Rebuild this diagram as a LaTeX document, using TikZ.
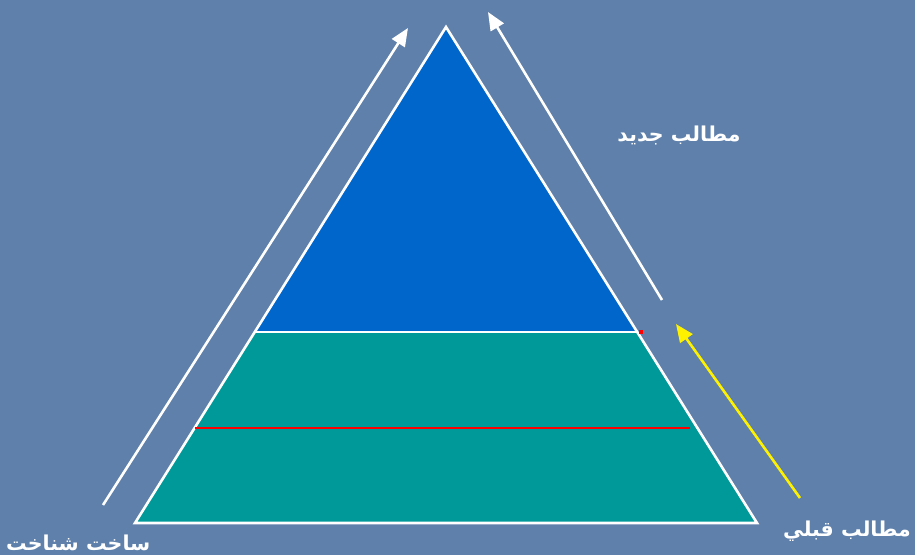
\documentclass[tikz,border=0pt]{standalone}
\usepackage{fontspec}
\TeXXeTstate=1
\newfontfamily\arabicfont[Script=Arabic]{DejaVu Sans}
\usetikzlibrary{arrows.meta}
\definecolor{bgblue}{HTML}{5E80AA}
\definecolor{topblue}{HTML}{0066CC}
\definecolor{teal}{HTML}{009999}
\tikzset{
  px/.style={x=1pt,y=-1pt},
  lbl/.style={text=white,font=\arabicfont\bfseries\fontsize{20.5}{24}\selectfont,inner sep=0pt},
  warrow/.style={draw=white,line width=2.6pt,-{Triangle[length=18pt,width=15pt]}},
  yarrow/.style={draw=yellow,line width=2.6pt,-{Triangle[length=18pt,width=15pt]}},
  edge/.style={draw=white,line width=2.6pt,line join=miter}
}
\begin{document}
\begin{tikzpicture}[px]
\fill[bgblue] (0,0) rectangle (915,555);
\useasboundingbox (0,0) rectangle (915,555);
\coordinate (apex) at (446,27);
\coordinate (bl) at (135,523);
\coordinate (br) at (757,523);
\coordinate (ml) at (256,332);
\coordinate (mr) at (637,332);
\coordinate (rl) at (195,428);
\coordinate (rr) at (690,428);
\fill[teal] (ml) -- (mr) -- (br) -- (bl) -- cycle;
\fill[topblue] (apex) -- (mr) -- (ml) -- cycle;
\draw[edge] (apex) -- (br) -- (bl) -- cycle;
\draw[edge] (ml) -- (mr);
\draw[red,line width=2.6pt] (rl) -- (rr);
\fill[red] (639,330) rectangle (643,334);
\coordinate (a1s) at (103,505);
\coordinate (a1e) at (408,28);
\coordinate (a2s) at (662,300);
\coordinate (a2e) at (488,12);
\coordinate (a3s) at (800,498);
\coordinate (a3e) at (676,324);
\draw[warrow] (a1s) -- (a1e);
\draw[warrow] (a2s) -- (a2e);
\draw[yarrow] (a3s) -- (a3e);
\node[lbl] (jadid) at (679,135) {\beginR مطالب جدید\endR};
\node[lbl,anchor=east] (ghabli) at (911,531) {\beginR مطالب قبلي\endR};
\node[lbl,anchor=west] (sakht) at (6,543) {\beginR ساخت شناخت\endR};
\end{tikzpicture}
\end{document}
